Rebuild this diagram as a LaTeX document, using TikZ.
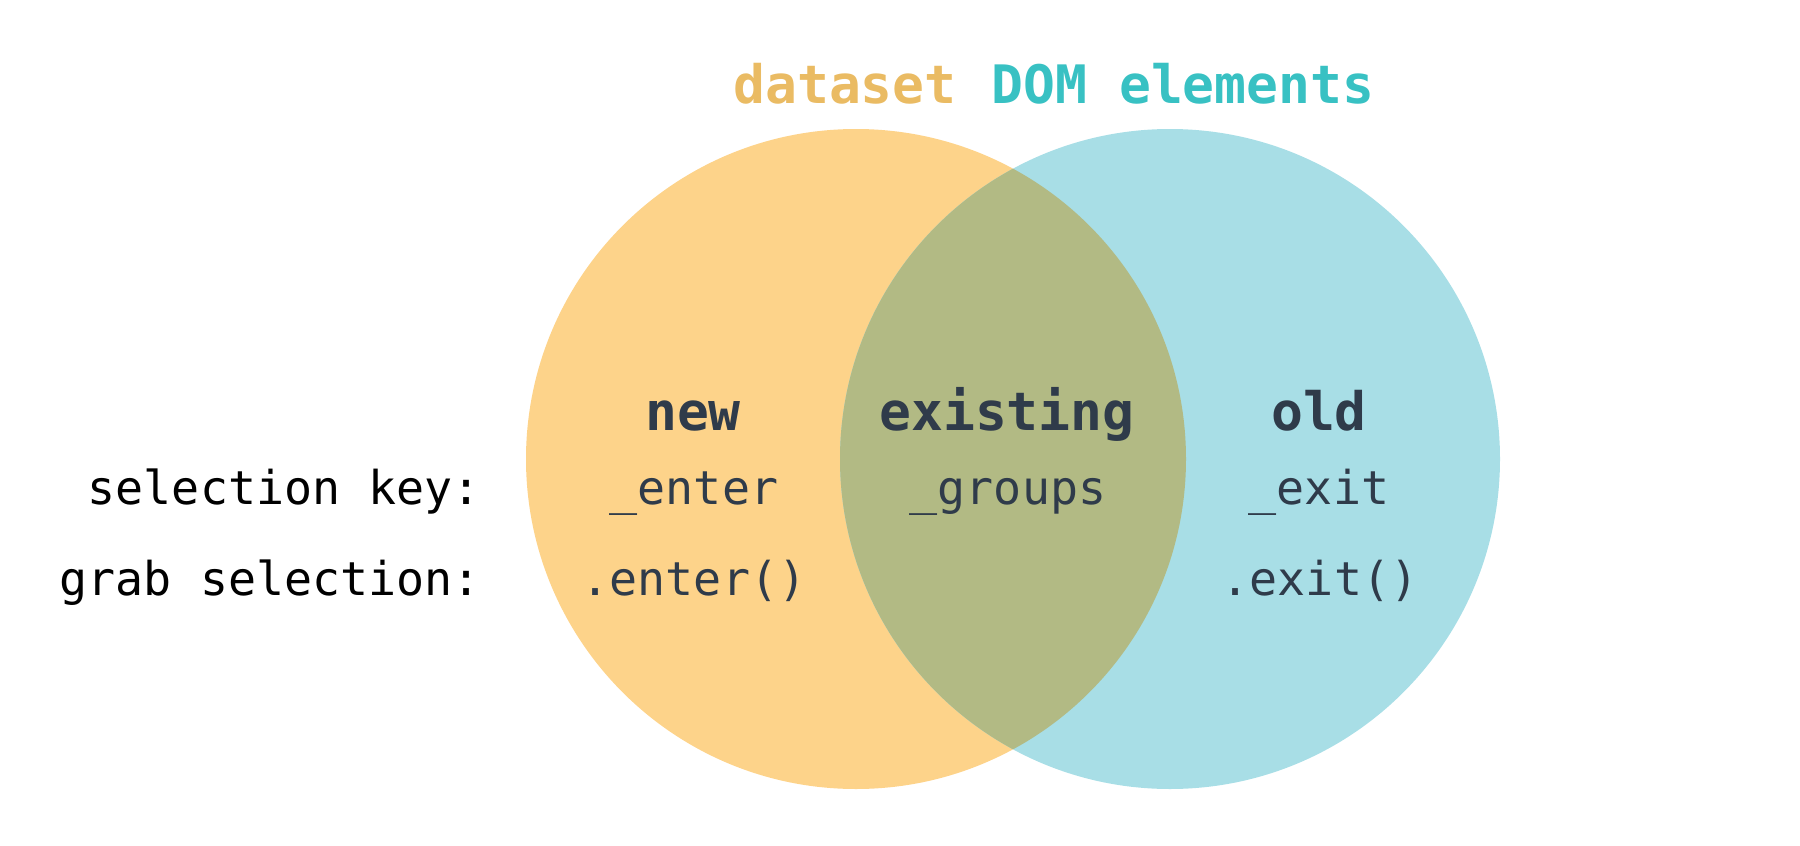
\documentclass[tikz,border=0pt]{standalone}
\usepackage{fontspec}
\setmonofont{DejaVu Sans Mono}
\definecolor{setA}{HTML}{FDD38A}
\definecolor{setB}{HTML}{A8DEE6}
\definecolor{setAB}{HTML}{B2BA84}
\definecolor{titleA}{HTML}{EABB63}
\definecolor{titleB}{HTML}{38C1C3}
\definecolor{ink}{HTML}{2F3B4A}
\tikzset{
  big/.style={font=\ttfamily\bfseries\fontsize{26.5pt}{30pt}\selectfont, anchor=base, inner sep=0pt},
  reg/.style={font=\ttfamily\fontsize{23.3pt}{28pt}\selectfont, anchor=base, inner sep=0pt, text=ink},
  side/.style={font=\ttfamily\fontsize{23.3pt}{28pt}\selectfont, anchor=base east, inner sep=0pt, text=black},
}
\begin{document}
\begin{tikzpicture}[x=0.5pt,y=-0.5pt]
\useasboundingbox (0,0) rectangle (1800,846);
\coordinate (cA) at (856,459);
\coordinate (cB) at (1170,459);
\fill[setA] (cA) circle[radius=165pt];
\fill[setB] (cB) circle[radius=165pt];
\begin{scope}
  \clip (cA) circle[radius=165pt];
  \fill[setAB] (cB) circle[radius=165pt];
\end{scope}
\node[big, text=titleA] (tA) at (845,103) {dataset};
\node[big, text=titleB] (tB) at (1183,103) {DOM elements};
\node[big, text=ink] (new) at (693,430) {new};
\node[big, text=ink] (exist) at (1007,430) {existing};
\node[big, text=ink] (old) at (1319,430) {old};
\node[side] (key) at (481,504) {selection key:};
\node[side] (grab) at (481,595) {grab selection:};
\node[reg] (enterk) at (694,504) {\_enter};
\node[reg] (groups) at (1008,504) {\_groups};
\node[reg] (exitk) at (1319,504) {\_exit};
\node[reg] (enterf) at (694,595) {.enter()};
\node[reg] (exitf) at (1320,595) {.exit()};
\end{tikzpicture}
\end{document}
